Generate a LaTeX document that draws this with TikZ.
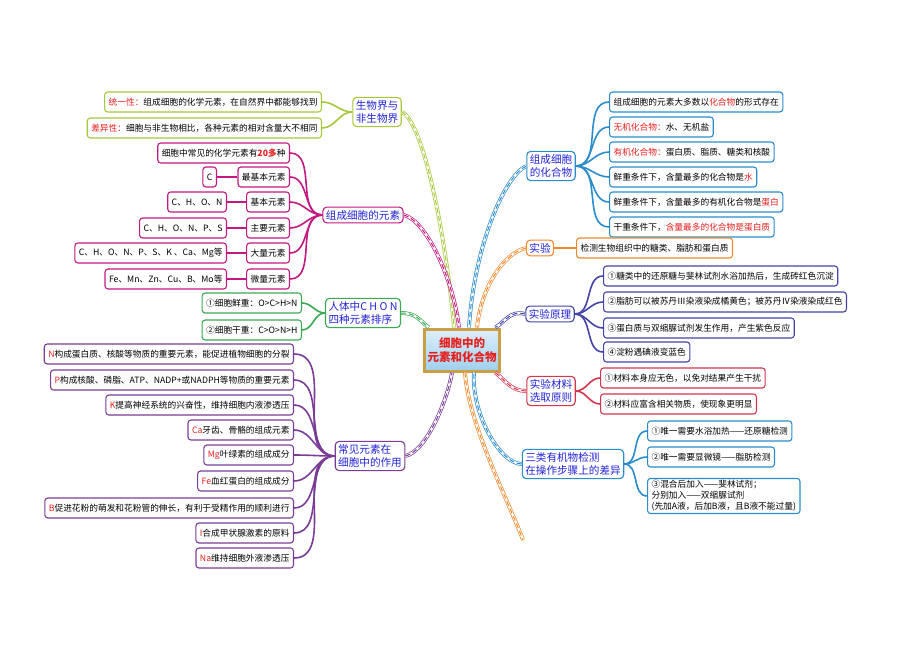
\documentclass[tikz,border=0pt]{standalone}
\usepackage{fontspec}
\setmainfont{Noto Sans CJK SC}
\usetikzlibrary{positioning}

\definecolor{cLime}{HTML}{A6C83A}
\definecolor{cMag}{HTML}{C2187F}
\definecolor{cGreen}{HTML}{3BAA52}
\definecolor{cPurple}{HTML}{7A3C96}
\definecolor{cBlue}{HTML}{2A8CCB}
\definecolor{cOrange}{HTML}{F08A2E}
\definecolor{cIndigo}{HTML}{4444A6}
\definecolor{cCrimson}{HTML}{D23650}
\definecolor{cHub}{HTML}{2222D8}
\definecolor{cRed}{HTML}{E5201E}
\definecolor{cGold}{HTML}{C9A046}
\definecolor{cSky}{HTML}{9FD0EE}

\begin{document}
\begin{tikzpicture}[
			x=1pt, y=-1pt,
			hub/.style = {draw=#1, rounded corners=4pt, line width=1.1pt, fill=white, inner sep=3pt, align=left, text=cHub, font=\fontsize{10.6}{13.5}\selectfont},
			leaf/.style = {draw=#1, rounded corners=3pt, line width=1.1pt, fill=white, minimum height=20pt, inner xsep=4pt, inner ysep=2pt, align=left, font=\fontsize{8.7}{11}\selectfont},
			twig/.style = {draw=#1, line width=1.6pt},
			ribbon/.style = {draw=#1, line width=3.8pt, postaction={draw=white, line width=2.4pt}, postaction={draw=#1, line width=1pt, dash pattern=on 5pt off 3pt}}
		]
		\useasboundingbox (0,0) rectangle (920,650);
		\node[draw=cGold, line width=3pt, top color=cSky!35, bottom color=cSky, minimum width=75pt, minimum height=42pt, align=center, text=cRed, font=\bfseries\fontsize{11.5}{14}\selectfont] (ctr) at (462,350) {细胞中的\\元素和化合物};
		% Left side: the hubs and their leaves.
		\node[hub=cLime] (bio) at (377,112) {生物界与\\非生物界};
		\node[leaf=cLime, anchor=east] (bio1) at (322,102) {\textcolor{cRed}{统一性：}组成细胞的化学元素，在自然界中都能够找到};
		\node[leaf=cLime, anchor=east] (bio2) at (322,128) {\textcolor{cRed}{差异性：}细胞与非生物相比，各种元素的相对含量大不相同};
		\node[hub=cMag] (elem) at (363,215) {组成细胞的元素};
		\node[leaf=cMag, anchor=east] (e0) at (290,153) {细胞中常见的化学元素有\textcolor{cRed}{\textbf{20多}}种};
		\node[leaf=cMag, anchor=east] (e1) at (290,177) {最基本元素};
		\node[leaf=cMag, anchor=east] (e2) at (290,202) {基本元素};
		\node[leaf=cMag, anchor=east] (e3) at (290,228) {主要元素};
		\node[leaf=cMag, anchor=east] (e4) at (290,253) {大量元素};
		\node[leaf=cMag, anchor=east] (e5) at (290,279) {微量元素};
		\node[leaf=cMag, anchor=east] (v1) at (217,177) {C};
		\node[leaf=cMag, anchor=east] (v2) at (227,202) {C、H、O、N};
		\node[leaf=cMag, anchor=east] (v3) at (227,228) {C、H、O、N、P、S};
		\node[leaf=cMag, anchor=east] (v4) at (227,253) {C、H、O、N、P、S、K 、Ca、Mg等};
		\node[leaf=cMag, anchor=east] (v5) at (227,279) {Fe、Mn、Zn、Cu、B、Mo等};
		\node[hub=cGreen] (chon) at (363,313) {人体中C H O N\\四种元素排序};
		\node[leaf=cGreen, anchor=east] (ch1) at (302,303) {①细胞鲜重：O>C>H>N};
		\node[leaf=cGreen, anchor=east] (ch2) at (302,330) {②细胞干重：C>O>N>H};
		\node[hub=cPurple] (role) at (370,456) {常见元素在\\细胞中的作用};
		\node[leaf=cPurple, anchor=east] (r1) at (294,354) {\textcolor{cRed}{N}构成蛋白质、核酸等物质的重要元素，能促进植物细胞的分裂};
		\node[leaf=cPurple, anchor=east] (r2) at (294,380) {\textcolor{cRed}{P}构成核酸、磷脂、ATP、NADP+或NADPH等物质的重要元素};
		\node[leaf=cPurple, anchor=east] (r3) at (294,405) {\textcolor{cRed}{K}提高神经系统的兴奋性，维持细胞内液渗透压};
		\node[leaf=cPurple, anchor=east] (r4) at (294,430) {\textcolor{cRed}{Ca}牙齿、骨骼的组成元素};
		\node[leaf=cPurple, anchor=east] (r5) at (294,455) {\textcolor{cRed}{Mg}叶绿素的组成成分};
		\node[leaf=cPurple, anchor=east] (r6) at (294,481) {\textcolor{cRed}{Fe}血红蛋白的组成成分};
		\node[leaf=cPurple, anchor=east] (r7) at (294,508) {\textcolor{cRed}{B}促进花粉的萌发和花粉管的伸长，有利于受精作用的顺利进行};
		\node[leaf=cPurple, anchor=east] (r8) at (294,533) {\textcolor{cRed}{I}合成甲状腺激素的原料};
		\node[leaf=cPurple, anchor=east] (r9) at (294,558) {\textcolor{cRed}{Na}维持细胞外液渗透压};
		% Right side: the hubs and their leaves.
		\node[hub=cBlue] (cmpd) at (551,166) {组成细胞\\的化合物};
		\node[leaf=cBlue, anchor=west] (c1) at (609,102) {组成细胞的元素大多数以\textcolor{cRed}{化合物}的形式存在};
		\node[leaf=cBlue, anchor=west] (c2) at (609,127) {\textcolor{cRed}{无机化合物：}水、无机盐};
		\node[leaf=cBlue, anchor=west] (c3) at (609,152) {\textcolor{cRed}{有机化合物：}蛋白质、脂质、糖类和核酸};
		\node[leaf=cBlue, anchor=west] (c4) at (609,177) {鲜重条件下，含量最多的化合物是\textcolor{cRed}{水}};
		\node[leaf=cBlue, anchor=west] (c5) at (609,202) {鲜重条件下，含量最多的有机化合物是\textcolor{cRed}{蛋白}};
		\node[leaf=cBlue, anchor=west] (c6) at (609,227) {干重条件下，\textcolor{cRed}{含量最多的化合物是蛋白质}};
		\node[hub=cOrange] (exp) at (540,248) {实验};
		\node[leaf=cOrange, anchor=west] (x1) at (576,248) {检测生物组织中的糖类、脂肪和蛋白质};
		\node[hub=cIndigo] (prin) at (550,314) {实验原理};
		\node[leaf=cIndigo, anchor=west] (p1) at (603,276) {①糖类中的还原糖与斐林试剂水浴加热后，生成砖红色沉淀};
		\node[leaf=cIndigo, anchor=west] (p2) at (603,302) {②脂肪可以被苏丹Ⅲ染液染成橘黄色；被苏丹Ⅳ染液染成红色};
		\node[leaf=cIndigo, anchor=west] (p3) at (603,328) {③蛋白质与双缩脲试剂发生作用，产生紫色反应};
		\node[leaf=cIndigo, anchor=west] (p4) at (603,352) {④淀粉遇碘液变蓝色};
		\node[hub=cCrimson] (mat) at (551,391) {实验材料\\选取原则};
		\node[leaf=cCrimson, anchor=west] (m1) at (600,378) {①材料本身应无色，以免对结果产生干扰};
		\node[leaf=cCrimson, anchor=west] (m2) at (600,404) {②材料应富含相关物质，使现象更明显};
		\node[hub=cBlue] (diff) at (573,464) {三类有机物检测\\在操作步骤上的差异};
		\node[leaf=cBlue, anchor=west] (d1) at (647,431) {①唯一需要水浴加热——还原糖检测};
		\node[leaf=cBlue, anchor=west] (d2) at (647,457) {②唯一需要显微镜——脂肪检测};
		\node[leaf=cBlue, anchor=west] (d3) at (647,496) {③混合后加入——斐林试剂；\\分别加入——双缩脲试剂\\(先加A液，后加B液，且B液不能过量)};
		\coordinate (tail) at (523,540);
		% Ribbons from the centre to the hubs.
		\draw[ribbon=cLime] (bio.east) .. controls +(22,10) and +(-8,-90) .. ([xshift=-8pt]ctr.north);
		\draw[ribbon=cMag] (elem.east) .. controls +(22,5) and +(-6,-50) .. ([xshift=-3pt]ctr.north);
		\draw[ribbon=cBlue] (cmpd.west) .. controls +(-22,10) and +(5,-80) .. ([xshift=7pt]ctr.north);
		\draw[ribbon=cOrange] (exp.west) .. controls +(-22,5) and +(4,-40) .. ([xshift=15pt]ctr.north);
		\draw[ribbon=cIndigo] (prin.west) .. controls +(-15,-4) and +(10,-6) .. ([xshift=-6pt]ctr.north east);
		\draw[ribbon=cGreen] (chon.east) .. controls +(15,0) and +(-10,-8) .. ([xshift=6pt]ctr.north west);
		\draw[ribbon=cCrimson] (mat.west) .. controls +(-15,0) and +(10,8) .. ([xshift=-6pt]ctr.south east);
		\draw[ribbon=cPurple] (role.east) .. controls +(22,-5) and +(-4,25) .. ([xshift=-10pt]ctr.south);
		\draw[ribbon=cBlue] (diff.west) .. controls +(-22,0) and +(-3,40) .. ([xshift=12pt]ctr.south);
		\draw[ribbon=cOrange] ([xshift=3pt]ctr.south) .. controls +(3,50) and +(-15,-40) .. (tail);
		% Twigs from the hubs to the leaves.
		\foreach \l in {bio1,bio2} \draw[twig=cLime] (bio.west) to[out=180, in=0] (\l.east);
		\foreach \l in {e0,e1,e2,e3,e4,e5} \draw[twig=cMag] (elem.west) to[out=180, in=0] (\l.east);
		\foreach \a/\b in {e1/v1,e2/v2,e3/v3,e4/v4,e5/v5} \draw[twig=cMag] (\a.west) to[out=180, in=0] (\b.east);
		\foreach \l in {ch1,ch2} \draw[twig=cGreen] (chon.west) to[out=180, in=0] (\l.east);
		\foreach \l in {r1,r2,r3,r4,r5,r6,r7,r8,r9} \draw[twig=cPurple] (role.west) to[out=180, in=0] (\l.east);
		\foreach \l in {c1,c2,c3,c4,c5,c6} \draw[twig=cBlue] (cmpd.east) to[out=0, in=180] (\l.west);
		\draw[twig=cOrange] (exp.east) -- (x1.west);
		\foreach \l in {p1,p2,p3,p4} \draw[twig=cIndigo] (prin.east) to[out=0, in=180] (\l.west);
		\foreach \l in {m1,m2} \draw[twig=cCrimson] (mat.east) to[out=0, in=180] (\l.west);
		\foreach \l in {d1,d2,d3} \draw[twig=cBlue] (diff.east) to[out=0, in=180] (\l.west);
	\end{tikzpicture}
\end{document}
